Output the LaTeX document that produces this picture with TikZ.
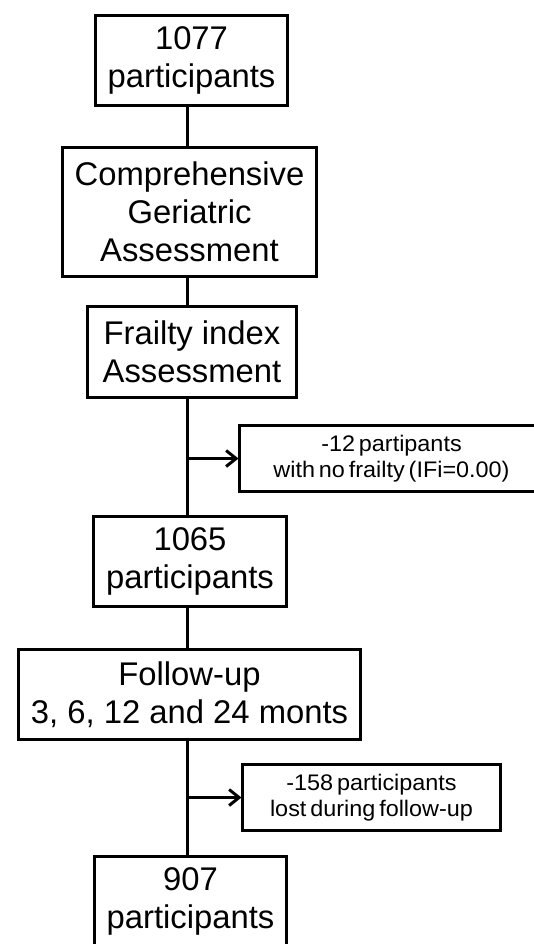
\documentclass[tikz,border=0pt]{standalone}
\usepackage{fontspec}
\setmainfont{Liberation Sans}
\newfontfamily\sidefont[WordSpace=0.6,FakeStretch=1.04]{Liberation Sans}
\usetikzlibrary{arrows.meta}
\tikzset{
  mainbox/.style={draw, line width=3pt, inner sep=0pt, outer sep=0pt, align=center,
    font=\fontsize{32.8}{38}\selectfont},
  sidebox/.style={draw, line width=3pt, inner sep=0pt, outer sep=0pt, align=center,
    font=\sidefont\fontsize{22.5}{26}\selectfont},
  link/.style={line width=3pt},
  exclude/.style={line width=3pt, -{Straight Barb[length=10pt,width=16pt,line width=3pt]}, shorten >=1pt}
}
\begin{document}
\begin{tikzpicture}[x=1pt,y=-1pt]
\useasboundingbox (0,0) rectangle (534,944);
\clip (0,0) rectangle (534,944);
\fill[white] (0,0) rectangle (534,944);
\coordinate (sp) at (187,0);
\node[mainbox, minimum width=192pt, minimum height=90pt] (b1) at (191.5,60.5) {1077\\participants};
\node[mainbox, minimum width=254pt, minimum height=129pt] (b2) at (189.5,212) {Comprehensive\\Geriatric\\Assessment};
\node[mainbox, minimum width=209pt, minimum height=91pt] (b3) at (192,352) {Frailty index\\Assessment};
\node[sidebox, minimum width=304pt, minimum height=66pt] (s1) at (391.5,458.5) {-12 partipants\\with no frailty (IFi=0.00)};
\node[mainbox, minimum width=193pt, minimum height=90pt] (b4) at (190,561.5) {1065\\participants};
\node[mainbox, minimum width=342pt, minimum height=90pt] (b5) at (189.5,694.5) {Follow-up\\3, 6, 12 and 24 monts};
\node[sidebox, minimum width=258pt, minimum height=66pt] (s2) at (371.5,797.5) {-158 participants\\lost during follow-up};
\node[mainbox, minimum width=192pt, minimum height=90pt] (b6) at (190.5,901.5) {907\\participants};
\draw[link] (b1.south -| sp) -- (b2.north -| sp);
\draw[link] (b2.south -| sp) -- (b3.north -| sp);
\draw[link] (b3.south -| sp) -- (b4.north -| sp);
\draw[link] (b4.south -| sp) -- (b5.north -| sp);
\draw[link] (b5.south -| sp) -- (b6.north -| sp);
\draw[exclude] (s1.west -| sp) -- (s1.west);
\draw[exclude] (s2.west -| sp) -- (s2.west);
\end{tikzpicture}
\end{document}
